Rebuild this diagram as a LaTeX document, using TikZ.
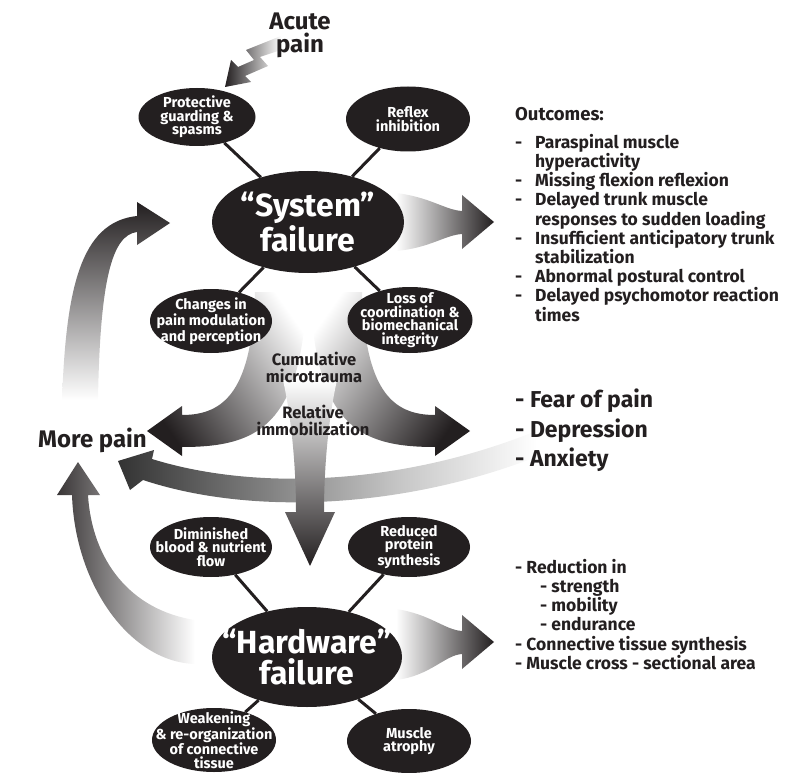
\documentclass[tikz,border=0pt]{standalone}
\usepackage{fontspec}
\setmainfont{Fira Sans}
\usetikzlibrary{shapes.geometric,positioning}
\definecolor{ink}{HTML}{231F20}
\pgfdeclarehorizontalshading{fearfade}{100bp}{color(0bp)=(black!80); color(25bp)=(black!80);
  color(50bp)=(black!22); color(62bp)=(white); color(100bp)=(white)}
\tikzset{
  bubble/.style={ellipse,fill=ink,text=white,inner sep=-40pt,align=center,
    font=\bfseries\fontsize{14.5}{13.5}\selectfont,minimum width=122,minimum height=62},
  core/.style={bubble,font=\bfseries\fontsize{32}{31}\selectfont,
    minimum width=192,minimum height=102},
  link/.style={line width=3,ink},
  note/.style={text=ink,inner sep=0,align=left,anchor=north west,
    font=\bfseries\fontsize{17.5}{19.2}\selectfont},
  big note/.style={note,font=\bfseries\fontsize{23}{29.5}\selectfont},
  label text/.style={text=ink,inner sep=0,align=center,anchor=north,
    font=\bfseries\fontsize{16.5}{16.5}\selectfont}
}
\newcommand{\ldash}{\makebox[20pt][l]{-}}

\begin{document}
\begin{tikzpicture}[x=1pt,y=-1pt]
  \useasboundingbox (0,0) rectangle (804,773);

  % Shaded arrows (behind everything)
  \shade[shading=fearfade]
    (152,459) .. controls (300,505) and (520,470) .. (665,358)
    -- (684,372) .. controls (540,492) and (300,532) .. (143,480)
    -- (130,490) -- (118,461) -- (154,450) -- cycle;
  \shade[left color=ink, right color=white, shading angle=125]
    (255,292) .. controls (252,390) and (225,415) .. (182,415)
    -- (182,406) -- (147,431) -- (182,456) -- (182,447)
    .. controls (250,447) and (292,430) .. (304,330) -- (315,292) -- cycle;
  \shade[left color=white, right color=ink, shading angle=55]
    (362,292) .. controls (365,390) and (392,415) .. (435,415)
    -- (435,406) -- (470,431) -- (435,456) -- (435,447)
    .. controls (367,447) and (325,430) .. (313,330) -- (302,292) -- cycle;
  \shade[top color=white, bottom color=ink]
    (283,380) .. controls (292,420) and (296,470) .. (296,512)
    -- (285,512) -- (310,566) -- (335,512) -- (324,512)
    .. controls (324,470) and (328,420) .. (337,380) -- cycle;

  % Loop back to the system
  \shade[top color=ink, bottom color=white]
    (62,400) .. controls (66,290) and (80,222) .. (137,216)
    -- (137,202) -- (170,223) -- (137,245) -- (137,232)
    .. controls (112,235) and (100,280) .. (98,400) -- cycle;
  \shade[left color=ink!90, right color=white]
    (195,620) .. controls (130,610) and (92,560) .. (88,495)
    -- (100,495) -- (78,462) -- (57,495) -- (72,495)
    .. controls (75,585) and (130,662) .. (195,664) -- cycle;

  % Outcome arrows
  \shade[left color=white, right color=ink]
    (396,193) .. controls (430,197) and (445,210) .. (462,211)
    -- (462,195) -- (494,222) -- (462,249) -- (462,234)
    .. controls (445,235) and (430,248) .. (396,251) -- cycle;
  \shade[left color=white, right color=ink]
    (396,609) .. controls (430,614) and (445,630) .. (462,631)
    -- (462,615) -- (494,642) -- (462,669) -- (462,654)
    .. controls (445,655) and (430,676) .. (396,680) -- cycle;

  % Acute pain bolt
  \shade[left color=ink, right color=white]
    (281,36) -- (246,50) -- (254,60) -- (238,67) -- (231,60) -- (225,87)
    -- (251,82) -- (245,76) -- (268,66) -- (260,57) -- (281,50) -- cycle;

  % System failure
  \node[core] (sys) at (308,222) {``System''\\failure};
  \node[bubble,minimum width=117,minimum height=58] (prot) at (197,117)
    {Protective\\guarding \&\\spasms};
  \node[bubble,minimum width=124,minimum height=65] (reflex) at (408,119)
    {Reflex\\inhibition};
  \node[bubble,minimum height=64] (change) at (211,321)
    {Changes in\\pain modulation\\and perception};
  \node[bubble,minimum width=125,minimum height=66] (loss) at (410,320)
    {Loss of\\coordination \&\\biomechanical\\integrity};

  % Hardware failure
  \node[core,minimum width=190,minimum height=100] (hard) at (307,657)
    {``Hardware''\\failure};
  \node[bubble,minimum height=60] (dimin) at (211,547)
    {Diminished\\blood \& nutrient\\flow};
  \node[bubble,minimum height=60] (reduced) at (409,547)
    {Reduced\\protein\\synthesis};
  \node[bubble,minimum width=124,minimum height=64] (weak) at (214,740)
    {Weakening\\\& re-organization\\of connective\\tissue};
  \node[bubble,minimum width=124,minimum height=64] (atrophy) at (409,741)
    {Muscle\\atrophy};

  \draw[link] (sys) -- (prot);
  \draw[link] (sys) -- (reflex);
  \draw[link] (sys) -- (change);
  \draw[link] (sys) -- (loss);
  \draw[link] (hard) -- (dimin);
  \draw[link] (hard) -- (reduced);
  \draw[link] (hard) -- (weak);
  \draw[link] (hard) -- (atrophy);

  % Labels
  \node[label text,font=\bfseries\fontsize{24}{23}\selectfont] (acute) at (300,13)
    {Acute\\pain};
  \node[text=ink,inner sep=0,anchor=base west,font=\bfseries\fontsize{24}{24}\selectfont]
    (more) at (38,447) {More pain};
  \node[label text] (micro) at (314,352) {Cumulative\\microtrauma};
  \node[label text] (immob) at (313,405) {Relative\\immobilization};

  % Outcome lists
  \node[note,font=\bfseries\fontsize{18.5}{19}\selectfont] (outc) at (515,107) {Outcomes:};
  \node[note] (outlist) at (515,134)
    {\ldash Paraspinal muscle\\
     \hspace*{20pt}hyperactivity\\
     \ldash Missing flexion reflexion\\
     \ldash Delayed trunk muscle\\
     \hspace*{20pt}responses to sudden loading\\
     \ldash Insufficient anticipatory trunk\\
     \hspace*{20pt}stabilization\\
     \ldash Abnormal postural control\\
     \ldash Delayed psychomotor reaction\\
     \hspace*{20pt}times};
  \node[big note] (fear) at (515,389)
    {- Fear of pain\\- Depression\\- Anxiety};
  \node[note] (hardlist) at (515,559)
    {- Reduction in\\
     \hspace*{25pt}- strength\\
     \hspace*{25pt}- mobility\\
     \hspace*{25pt}- endurance\\
     - Connective tissue synthesis\\
     - Muscle cross - sectional area};

\end{tikzpicture}
\end{document}
